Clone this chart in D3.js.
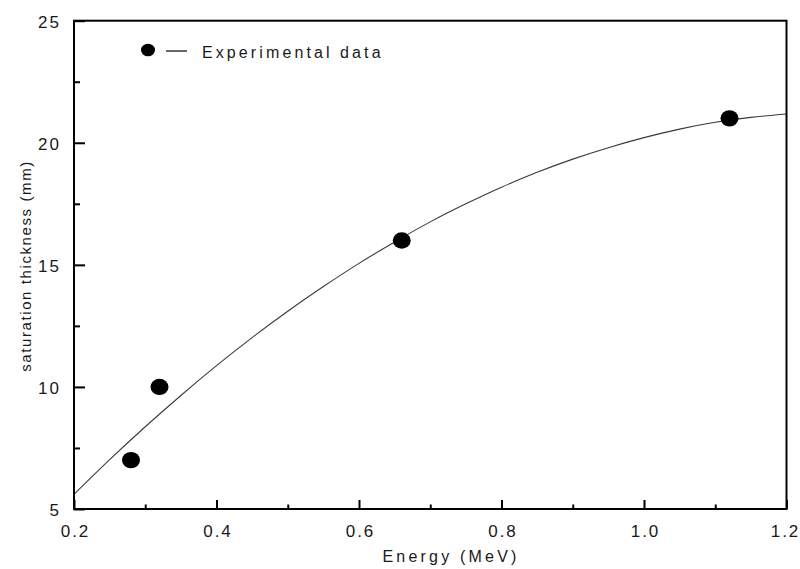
<!DOCTYPE html>
<html>
<head>
<meta charset="utf-8">
<script src="https://cdn.jsdelivr.net/npm/d3@7"></script>
<style>
  html, body { margin: 0; padding: 0; background: #fff; }
  svg { display: block; font-family: "Liberation Sans", Arial, sans-serif; }
</style>
</head>
<body>
<svg id="chart" width="800" height="569"></svg>
<script>
// ---- data ----
const energy = [0.28, 0.32, 0.66, 1.12];           // MeV
const thickness = [7, 10, 16, 21];                  // mm
const fitEnergy = [0.2, 0.25, 0.3, 0.35, 0.4, 0.45, 0.5, 0.55, 0.6, 0.65, 0.7,
                   0.75, 0.8, 0.85, 0.9, 0.95, 1.0, 1.05, 1.1, 1.15, 1.2];
const fitThickness = [5.6, 7.02, 8.37, 9.65, 10.87, 12.02, 13.1, 14.11, 15.06, 15.94, 16.76,
                      17.5, 18.18, 18.79, 19.33, 19.8, 20.21, 20.56, 20.84, 21.04, 21.18];
const xMajorTicks = [0.2, 0.4, 0.6, 0.8, 1.0, 1.2];
const xMinorTicks = [0.3, 0.5, 0.7, 0.9, 1.1];
const yMajorTicks = [5, 10, 15, 20, 25];
const yMinorTicks = [7.5, 12.5, 17.5, 22.5];
const legendLabel = "Experimental data";
const xTitle = "Energy (MeV)";
const yTitle = "saturation thickness (mm)";

// ---- layout ----
const pL = 74, pR = 786.5, pT = 20.7, pB = 509;
const svg = d3.select("#chart");
const x = d3.scaleLinear().domain([0.2, 1.2]).range([pL, pR]);
const y = d3.scaleLinear().domain([5, 25]).range([pB, pT]);

// curve
const line = d3.line().x((d, i) => x(fitEnergy[i])).y((d, i) => y(fitThickness[i])).curve(d3.curveNatural);
svg.append("path").datum(fitThickness).attr("d", line)
  .attr("fill", "none").attr("stroke", "#3a3a3a").attr("stroke-width", 1.1);

// axes
const xMinor = d3.axisBottom(x).tickValues(xMinorTicks).tickSize(-4.5).tickFormat("");
const xMajor = d3.axisBottom(x).tickValues(xMajorTicks).tickSize(-9).tickFormat(d3.format(".1f"));
const yMinor = d3.axisLeft(y).tickValues(yMinorTicks).tickSize(-6).tickFormat("");
const yMajor = d3.axisLeft(y).tickValues(yMajorTicks).tickSize(-11).tickFormat(d3.format("d"));

function styleAxis(g) {
  g.select(".domain").remove();
  g.selectAll(".tick line").attr("stroke", "#000").attr("stroke-width", 2);
}
const gxm = svg.append("g").attr("transform", `translate(0,${pB})`).call(xMinor); styleAxis(gxm);
const gx = svg.append("g").attr("transform", `translate(0,${pB})`).call(xMajor); styleAxis(gx);
gx.selectAll("text").attr("y", 27.5).attr("dy", null).attr("dx", d => d === 1.2 ? -1.5 : 1)
  .attr("font-size", 17).attr("letter-spacing", "2px").attr("fill", "#1a1a1a")
  .attr("font-family", "Liberation Sans, Arial, sans-serif");
const gym = svg.append("g").attr("transform", `translate(${pL},0)`).call(yMinor); styleAxis(gym);
const gy = svg.append("g").attr("transform", `translate(${pL},0)`).call(yMajor); styleAxis(gy);
gy.selectAll("text").attr("x", -13).attr("dy", "0.39em")
  .attr("font-size", 17).attr("letter-spacing", "2px").attr("fill", "#1a1a1a")
  .attr("font-family", "Liberation Sans, Arial, sans-serif");

// frame
svg.append("rect").attr("x", pL).attr("y", pT).attr("width", pR - pL).attr("height", pB - pT)
  .attr("fill", "none").attr("stroke", "#000").attr("stroke-width", 2);

// points
svg.append("g").selectAll("ellipse").data(energy).join("ellipse")
  .attr("cx", d => x(d)).attr("cy", (d, i) => y(thickness[i]))
  .attr("rx", 9).attr("ry", 8.2).attr("fill", "#000");

// legend
svg.append("ellipse").attr("cx", 148).attr("cy", 50).attr("rx", 7).attr("ry", 6.3).attr("fill", "#000");
svg.append("line").attr("x1", 166).attr("x2", 187).attr("y1", 51).attr("y2", 51)
  .attr("stroke", "#000").attr("stroke-width", 1.2);
svg.append("text").attr("x", 202).attr("y", 57.5).attr("font-size", 16).attr("letter-spacing", "3.1px")
  .attr("fill", "#1a1a1a").text(legendLabel);

// titles
svg.append("text").attr("x", 451).attr("y", 562).attr("text-anchor", "middle")
  .attr("font-size", 16).attr("letter-spacing", "3.2px").attr("fill", "#1a1a1a").text(xTitle);
svg.append("text").attr("transform", "translate(31,266) rotate(-90)").attr("text-anchor", "middle")
  .attr("font-size", 15).attr("letter-spacing", "1.6px").attr("fill", "#1a1a1a").text(yTitle);
</script>
</body>
</html>
